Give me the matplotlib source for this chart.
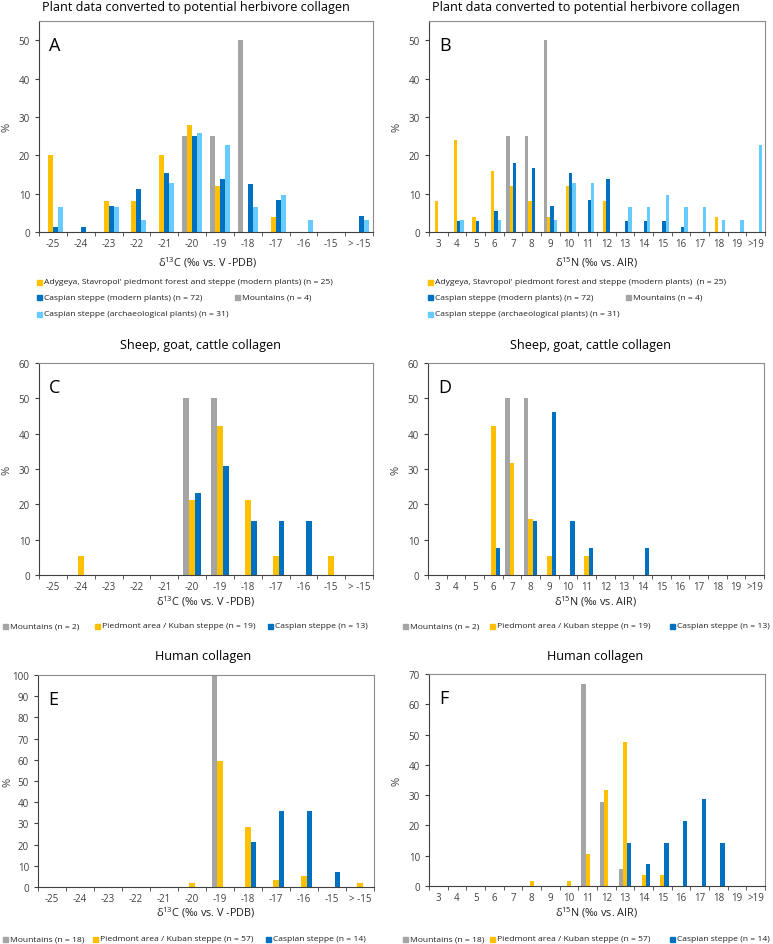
import numpy as np
import matplotlib
matplotlib.use("Agg")
import matplotlib.pyplot as plt
from matplotlib.patches import Rectangle

plt.rcParams['font.family'] = ['Open Sans', 'DejaVu Sans']

# categories
c_bins = ['-25', '-24', '-23', '-22', '-21', '-20', '-19', '-18', '-17', '-16', '-15', '> -15']
n_bins = ['3', '4', '5', '6', '7', '8', '9', '10', '11', '12', '13', '14', '15', '16', '17', '18', '19', '>19']

GREY = '#A5A5A5'
YELLOW = '#FFC000'
DBLUE = '#0070C0'
LBLUE = '#66CCFF'

# A - plants, d13C
a_mount = [0, 0, 0, 0, 0, 25, 25, 50, 0, 0, 0, 0]
a_adyg = [20, 0, 8, 8, 20, 28, 12, 0, 4, 0, 0, 0]
a_casp = [1.4, 1.4, 6.9, 11.1, 15.3, 25.0, 13.9, 12.5, 8.3, 0, 0, 4.2]
a_arch = [6.5, 0, 6.5, 3.2, 12.9, 25.8, 22.6, 6.5, 9.7, 3.2, 0, 3.2]

# B - plants, d15N
b_mount = [0, 0, 0, 0, 25, 25, 50, 0, 0, 0, 0, 0, 0, 0, 0, 0, 0, 0]
b_adyg = [8, 24, 4, 16, 12, 8, 4, 12, 0, 8, 0, 0, 0, 0, 0, 4, 0, 0]
b_casp = [0, 2.8, 2.8, 5.6, 18.1, 16.7, 6.9, 15.3, 8.3, 13.9, 2.8, 2.8, 2.8, 1.4, 0, 0, 0, 0]
b_arch = [0, 3.2, 0, 3.2, 0, 0, 3.2, 12.9, 12.9, 0, 6.5, 6.5, 9.7, 6.5, 6.5, 3.2, 3.2, 22.6]

# C - sheep, goat, cattle d13C
c_mount = [0, 0, 0, 0, 0, 50, 50, 0, 0, 0, 0, 0]
c_pied = [0, 5.3, 0, 0, 0, 21.1, 42.1, 21.1, 5.3, 0, 5.3, 0]
c_casp = [0, 0, 0, 0, 0, 23.1, 30.8, 15.4, 15.4, 15.4, 0, 0]

# D - sheep, goat, cattle d15N
d_mount = [0, 0, 0, 0, 50, 50, 0, 0, 0, 0, 0, 0, 0, 0, 0, 0, 0, 0]
d_pied = [0, 0, 0, 42.1, 31.6, 15.8, 5.3, 0, 5.3, 0, 0, 0, 0, 0, 0, 0, 0, 0]
d_casp = [0, 0, 0, 7.7, 0, 15.4, 46.2, 15.4, 7.7, 0, 0, 7.7, 0, 0, 0, 0, 0, 0]

# E - human d13C
e_mount = [0, 0, 0, 0, 0, 0, 100, 0, 0, 0, 0, 0]
e_pied = [0, 0, 0, 0, 0, 1.8, 59.6, 28.1, 3.5, 5.3, 0, 1.8]
e_casp = [0, 0, 0, 0, 0, 0, 0, 21.4, 35.7, 35.7, 7.1, 0]

# F - human d15N
f_mount = [0, 0, 0, 0, 0, 0, 0, 0, 66.7, 27.8, 5.6, 0, 0, 0, 0, 0, 0, 0]
f_pied = [0, 0, 0, 0, 0, 1.8, 0, 1.8, 10.5, 31.6, 47.4, 3.5, 3.5, 0, 0, 0, 0, 0]
f_casp = [0, 0, 0, 0, 0, 0, 0, 0, 0, 0, 14.3, 7.1, 14.3, 21.4, 28.6, 14.3, 0, 0]

W, H = 773, 945
fig = plt.figure(figsize=(W / 100, H / 100), dpi=100)


def px_ax(left, top, right, bottom):
    return fig.add_axes([left / W, 1 - bottom / H, (right - left) / W, (bottom - top) / H])


def bars(ax, cats, series, colors, width, ymax, yticks, letter, ylab_x):
    x = np.arange(len(cats))
    k = len(series)
    for i, (vals, col) in enumerate(zip(series, colors)):
        ax.bar(x + (i - (k - 1) / 2) * width, vals, width=width, color=col, linewidth=0)
    ax.set_xlim(-0.5, len(cats) - 0.5)
    ax.set_ylim(0, ymax)
    ax.set_yticks(yticks)
    ax.set_xticks(x)
    ax.set_xticklabels(cats)
    ax.set_xticks(np.arange(len(cats) + 1) - 0.5, minor=True)
    ax.tick_params(axis='x', which='major', length=0, labelsize=7, colors='#404040', pad=4)
    ax.tick_params(axis='x', which='minor', length=3, color='#404040', direction='out')
    ax.tick_params(axis='y', length=3, labelsize=7, colors='#404040', color='#404040')
    for s in ['left', 'bottom']:
        ax.spines[s].set_color('#404040')
    for s in ['top', 'right']:
        ax.spines[s].set_color('#8C8C8C')
    ax.set_ylabel('%', fontsize=8, color='#404040')
    ax.yaxis.set_label_coords(ylab_x, 0.5)
    ax.text(0.03, 0.93, letter, transform=ax.transAxes, fontsize=13, va='top', ha='left')


def title(x, y, s):
    fig.text(x / W, 1 - y / H, s, ha='center', va='center', fontsize=9.1)


def xlab(x, y, s):
    fig.text(x / W, 1 - y / H, s, ha='center', va='center', fontsize=7.8, color='#202020')


def leg(x, y, col, s):
    fig.add_artist(Rectangle((x / W, 1 - (y + 2.5) / H), 5 / W, 5 / H, color=col,
                             transform=fig.transFigure))
    fig.text((x + 7) / W, 1 - y / H, s, ha='left', va='center', fontsize=6.1, color='#202020')


c13 = r'$\mathregular{\delta^{13}}$C (‰ vs. V -PDB)'
n15 = r'$\mathregular{\delta^{15}}$N (‰ vs. AIR)'

# A
ax = px_ax(39, 22, 373, 233)
bars(ax, c_bins, [a_mount, a_adyg, a_casp, a_arch], [GREY, YELLOW, DBLUE, LBLUE], 0.18, 55,
     range(0, 51, 10), 'A', -0.078)
title(196, 7, 'Plant data converted to potential herbivore collagen')
xlab(208, 263, c13)
leg(37, 283, YELLOW, "Adygeya, Stavropol' piedmont forest and steppe (modern plants) (n = 25)")
leg(37, 298, DBLUE, 'Caspian steppe (modern plants) (n = 72)')
leg(235, 298, GREY, 'Mountains (n = 4)')
leg(37, 315, LBLUE, 'Caspian steppe (archaeological plants) (n = 31)')

# B
ax = px_ax(429, 22, 765, 233)
bars(ax, n_bins, [b_mount, b_adyg, b_casp, b_arch], [GREY, YELLOW, DBLUE, LBLUE], 0.18, 55,
     range(0, 51, 10), 'B', -0.078)
title(586, 7, 'Plant data converted to potential herbivore collagen')
xlab(597, 263, n15)
leg(428, 283, YELLOW, "Adygeya, Stavropol' piedmont forest and steppe (modern plants)  (n = 25)")
leg(428, 298, DBLUE, 'Caspian steppe (modern plants) (n = 72)')
leg(626, 298, GREY, 'Mountains (n = 4)')
leg(428, 315, LBLUE, 'Caspian steppe (archaeological plants) (n = 31)')

# C
ax = px_ax(39, 364, 373, 576)
bars(ax, c_bins, [c_mount, c_pied, c_casp], [GREY, YELLOW, DBLUE], 0.21, 60,
     range(0, 61, 10), 'C', -0.078)
title(200, 346, 'Sheep, goat, cattle collagen')
xlab(206, 602, c13)
leg(3, 627, GREY, 'Mountains (n = 2)')
leg(95, 627, YELLOW, 'Piedmont area / Kuban steppe (n = 19)')
leg(268, 627, DBLUE, 'Caspian steppe (n = 13)')

# D
ax = px_ax(428, 364, 764, 576)
bars(ax, n_bins, [d_mount, d_pied, d_casp], [GREY, YELLOW, DBLUE], 0.24, 60,
     range(0, 61, 10), 'D', -0.078)
title(590, 346, 'Sheep, goat, cattle collagen')
xlab(596, 602, n15)
leg(403, 627, GREY, 'Mountains (n = 2)')
leg(490, 627, YELLOW, 'Piedmont area / Kuban steppe (n = 19)')
leg(670, 627, DBLUE, 'Caspian steppe (n = 13)')

# E
ax = px_ax(38, 676, 374, 888)
bars(ax, c_bins, [e_mount, e_pied, e_casp], [GREY, YELLOW, DBLUE], 0.2, 100,
     range(0, 101, 10), 'E', -0.072)
title(203, 657, 'Human collagen')
xlab(206, 913, c13)
leg(3, 940, GREY, 'Mountains (n = 18)')
leg(93, 940, YELLOW, 'Piedmont area / Kuban steppe (n = 57)')
leg(266, 940, DBLUE, 'Caspian steppe (n = 14)')

# F
ax = px_ax(429, 675, 765, 887)
bars(ax, n_bins, [f_mount, f_pied, f_casp], [GREY, YELLOW, DBLUE], 0.23, 70,
     range(0, 71, 10), 'F', -0.078)
title(595, 657, 'Human collagen')
xlab(597, 913, n15)
leg(403, 940, GREY, 'Mountains (n = 18)')
leg(490, 940, YELLOW, 'Piedmont area / Kuban steppe (n = 57)')
leg(670, 940, DBLUE, 'Caspian steppe (n = 14)')

fig.savefig('out.png', dpi=100)
